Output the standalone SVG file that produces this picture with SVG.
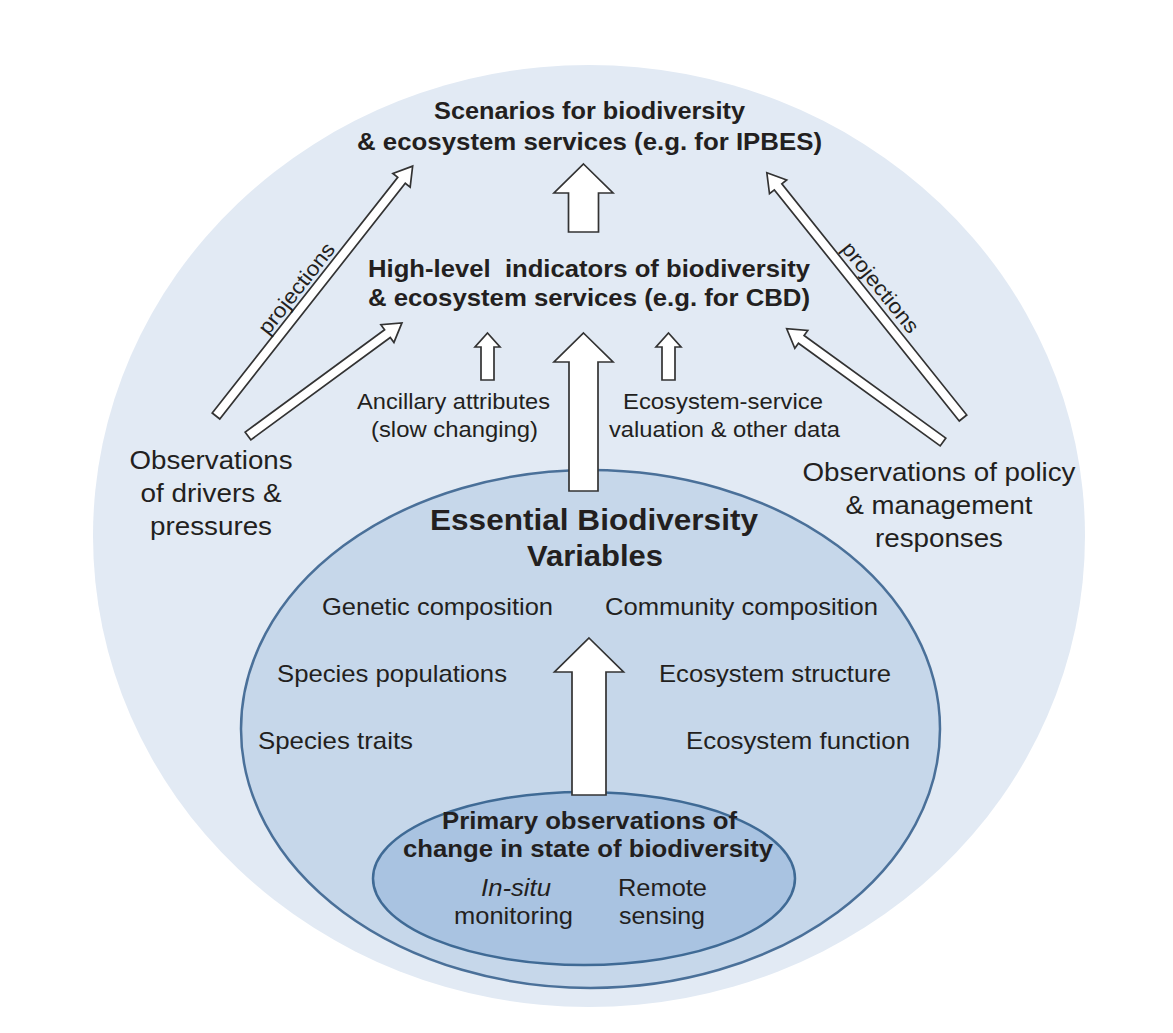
<svg xmlns="http://www.w3.org/2000/svg" width="1173" height="1033" viewBox="0 0 1173 1033">
<style>
.t{font-family:"Liberation Sans",Arial,Helvetica,sans-serif;fill:#231f20;text-anchor:middle}
.b{font-weight:bold}
.i{font-style:italic}
.s21{font-size:22px}
.s23{font-size:24px}
.sb{font-size:24.5px}
.s25{font-size:26px}
.s28{font-size:29.5px}
.s20{font-size:21px}
.arrow{fill:#ffffff;stroke:#333333;stroke-width:1.7;stroke-linejoin:miter}
</style>
<rect width="1173" height="1033" fill="#ffffff"/>
<g id="outer-region">
<ellipse cx="589" cy="536" rx="496" ry="471" fill="#e2eaf4"/>
</g>
<g id="ebv">
<ellipse cx="590.5" cy="729" rx="349.5" ry="259" fill="#c6d7ea" stroke="#4a7099" stroke-width="2.5"/>
<text class="t b s28" x="594" y="530" textLength="328" lengthAdjust="spacingAndGlyphs">Essential Biodiversity</text>
<text class="t b s28" x="595" y="566" textLength="136" lengthAdjust="spacingAndGlyphs">Variables</text>
<text class="t s23" x="437.5" y="615" textLength="231" lengthAdjust="spacingAndGlyphs">Genetic composition</text>
<text class="t s23" x="741.5" y="615" textLength="273" lengthAdjust="spacingAndGlyphs">Community composition</text>
<text class="t s23" x="392" y="682" textLength="230" lengthAdjust="spacingAndGlyphs">Species populations</text>
<text class="t s23" x="775" y="682" textLength="232" lengthAdjust="spacingAndGlyphs">Ecosystem structure</text>
<text class="t s23" x="335.5" y="749" textLength="155" lengthAdjust="spacingAndGlyphs">Species traits</text>
<text class="t s23" x="798" y="749" textLength="224" lengthAdjust="spacingAndGlyphs">Ecosystem function</text>
</g>
<g id="primary-observations">
<ellipse cx="584" cy="878.5" rx="211" ry="86.5" fill="#a9c3e1" stroke="#3f6a95" stroke-width="2.5"/>
<text class="t b sb" x="589.5" y="829" textLength="295" lengthAdjust="spacingAndGlyphs">Primary observations of</text>
<text class="t b sb" x="588" y="857" textLength="370" lengthAdjust="spacingAndGlyphs">change in state of biodiversity</text>
<text class="t i s23" x="516" y="896" textLength="70" lengthAdjust="spacingAndGlyphs">In-situ</text>
<text class="t s23" x="513.5" y="924" textLength="119" lengthAdjust="spacingAndGlyphs">monitoring</text>
<text class="t s23" x="662.5" y="896" textLength="89" lengthAdjust="spacingAndGlyphs">Remote</text>
<text class="t s23" x="662" y="924" textLength="86" lengthAdjust="spacingAndGlyphs">sensing</text>
</g>
<g id="scenarios">
<text class="t b sb" x="589.5" y="119" textLength="311" lengthAdjust="spacingAndGlyphs">Scenarios for biodiversity</text>
<text class="t b sb" x="589.5" y="150" textLength="465" lengthAdjust="spacingAndGlyphs">&amp; ecosystem services (e.g. for IPBES)</text>
</g>
<g id="indicators">
<text class="t b sb" x="589" y="277" textLength="442" lengthAdjust="spacingAndGlyphs" xml:space="preserve">High-level  indicators of biodiversity</text>
<text class="t b sb" x="589" y="306" textLength="442" lengthAdjust="spacingAndGlyphs">&amp; ecosystem services (e.g. for CBD)</text>
</g>
<g id="ancillary">
<text class="t s21" x="453.5" y="409" textLength="193" lengthAdjust="spacingAndGlyphs">Ancillary attributes</text>
<text class="t s21" x="454.5" y="437" textLength="167" lengthAdjust="spacingAndGlyphs">(slow changing)</text>
</g>
<g id="valuation">
<text class="t s21" x="723" y="409" textLength="200" lengthAdjust="spacingAndGlyphs">Ecosystem-service</text>
<text class="t s21" x="724.5" y="437" textLength="231" lengthAdjust="spacingAndGlyphs">valuation &amp; other data</text>
</g>
<g id="drivers">
<text class="t s25" x="211" y="469" textLength="163" lengthAdjust="spacingAndGlyphs">Observations</text>
<text class="t s25" x="211" y="502" textLength="141" lengthAdjust="spacingAndGlyphs">of drivers &amp;</text>
<text class="t s25" x="211" y="535" textLength="122" lengthAdjust="spacingAndGlyphs">pressures</text>
</g>
<g id="policy">
<text class="t s25" x="939" y="481" textLength="273" lengthAdjust="spacingAndGlyphs">Observations of policy</text>
<text class="t s25" x="939" y="514" textLength="187" lengthAdjust="spacingAndGlyphs">&amp; management</text>
<text class="t s25" x="939" y="547" textLength="128" lengthAdjust="spacingAndGlyphs">responses</text>
</g>
<g id="connectors">
<polygon class="arrow" points="583.5,164 613,193 598.5,193 598.5,232 568.5,232 568.5,193 554,193"/>
<polygon class="arrow" points="583.5,333 613,362 598,362 598,491 569,491 569,362 554,362"/>
<polygon class="arrow" points="487.5,333 500,347 494,347 494,380 481,380 481,347 475,347"/>
<polygon class="arrow" points="668.5,333 681,347 675,347 675,380 662,380 662,347 656,347"/>
<polygon class="arrow" points="589,638 623.5,672 606,672 606,795 572,795 572,672 554.5,672"/>
<g transform="translate(216,416) rotate(-51.8)">
<polygon class="arrow" points="0,-4.8 300,-4.8 300,-11 318,0 300,11 300,4.8 0,4.8"/>
<text class="t s20" x="150" y="-8.5" textLength="110" lengthAdjust="spacingAndGlyphs">projections</text>
</g>
<g transform="translate(248,436) rotate(-36.3)">
<polygon class="arrow" points="0,-4.8 173,-4.8 173,-11 191,0 173,11 173,4.8 0,4.8"/>
</g>
<g transform="translate(963,418) rotate(-128.66)">
<polygon class="arrow" points="0,-4.8 296,-4.8 296,-11 314,0 296,11 296,4.8 0,4.8"/>
</g>
<text class="t s20" transform="translate(875,292) rotate(51.3)" x="0" y="0" textLength="110" lengthAdjust="spacingAndGlyphs">projections</text>
<g transform="translate(943,442) rotate(-144.08)">
<polygon class="arrow" points="0,-4.8 175,-4.8 175,-11 193,0 175,11 175,4.8 0,4.8"/>
</g>
</g>
</svg>
